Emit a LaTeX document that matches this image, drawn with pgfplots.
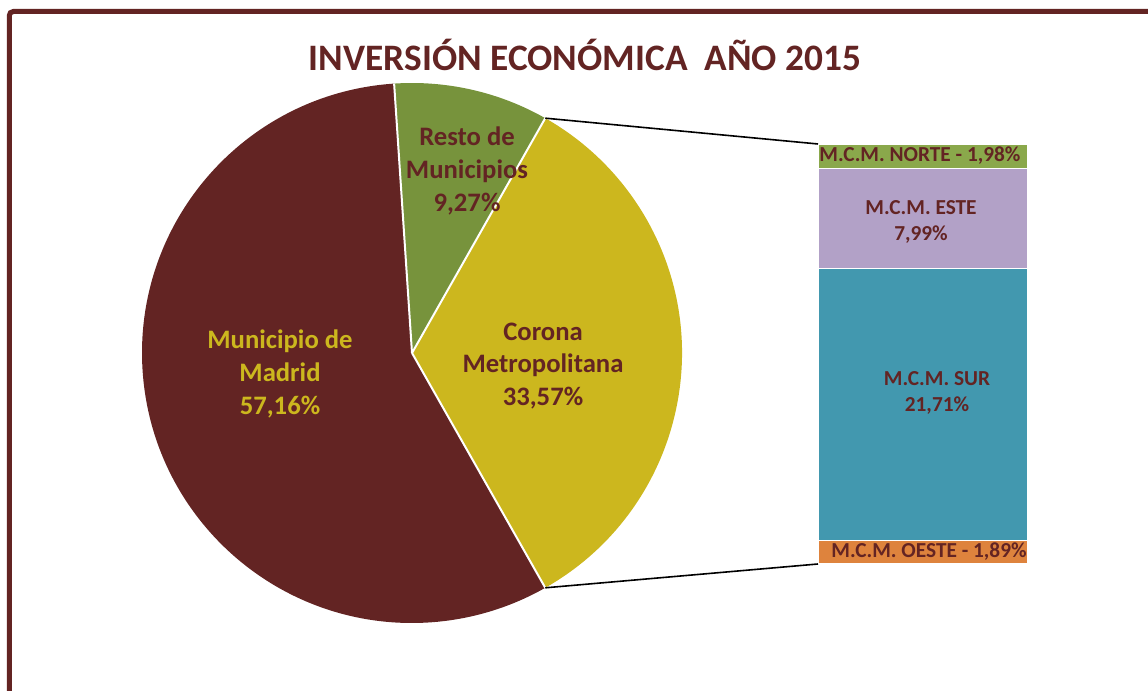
\documentclass[border=0pt]{standalone}
\usepackage{pgfplots}
\pgfplotsset{compat=1.18}
\usepackage{pgfplotstable}
\usepackage{fontspec}
\setmainfont{Carlito}
\definecolor{madrid}{HTML}{632423}
\definecolor{resto}{HTML}{77933C}
\definecolor{corona}{HTML}{CCB71E}
\definecolor{norte}{HTML}{8AA84B}
\definecolor{este}{HTML}{B2A1C7}
\definecolor{sur}{HTML}{4298AF}
\definecolor{oeste}{HTML}{DE833D}

\pgfplotstableread{
name value
Madrid 57.16
Resto 9.27
Corona 33.57
}\piedata

\pgfplotstableread{
x oeste sur este norte
1 1.89 21.71 7.99 1.98
}\bardata

\pgfplotstablegetelem{0}{value}\of\piedata \let\vMadrid\pgfplotsretval
\pgfplotstablegetelem{1}{value}\of\piedata \let\vResto\pgfplotsretval
\pgfplotstablegetelem{2}{value}\of\piedata \let\vCorona\pgfplotsretval
\pgfmathsetmacro{\aCs}{-1.8*\vCorona}
\pgfmathsetmacro{\aCe}{1.8*\vCorona}
\pgfmathsetmacro{\aRe}{\aCe+3.6*\vResto}
\pgfmathsetmacro{\aMe}{\aRe+3.6*\vMadrid}
\def\R{202.5pt}

\begin{document}
\begin{tikzpicture}[x=0.75pt,y=0.75pt]
\useasboundingbox (0,0) rectangle (1148,691);
\draw[madrid, line width=3.75pt, rounded corners=3pt] (9.3,-30) |- (1200,679.5);

\begin{axis}[at={(613.5pt,95.25pt)}, anchor=south west, scale only axis,
  width=157.5pt, height=315pt, xmin=0.5, xmax=1.5, ymin=0, ymax=33.57,
  enlargelimits=false, hide axis, clip=false,
  ybar stacked, bar width=157.5pt]
  \addplot[fill=oeste, draw=white, line width=1pt] table[x=x, y=oeste] {\bardata};
  \addplot[fill=sur, draw=white, line width=1pt] table[x=x, y=sur] {\bardata};
  \addplot[fill=este, draw=white, line width=1pt] table[x=x, y=este] {\bardata};
  \addplot[fill=norte, draw=white, line width=1pt] table[x=x, y=norte] {\bardata};
\end{axis}

\begin{axis}[at={(0pt,0pt)}, anchor=south west, x=0.75pt, y=0.75pt,
  xmin=0, xmax=1148, ymin=0, ymax=691, enlargelimits=false,
  hide axis, clip=false]
  % pie slices
  \fill[corona] (axis cs:412,338) -- ++(\aCs:\R) arc[start angle=\aCs, end angle=\aCe, radius=\R] -- cycle;
  \fill[resto] (axis cs:412,338) -- ++(\aCe:\R) arc[start angle=\aCe, end angle=\aRe, radius=\R] -- cycle;
  \fill[madrid] (axis cs:412,338) -- ++(\aRe:\R) arc[start angle=\aRe, end angle=\aMe, radius=\R] -- cycle;
  \draw[white, line width=1.5pt] (axis cs:412,338) -- ++(\aCs:\R);
  \draw[white, line width=1.5pt] (axis cs:412,338) -- ++(\aCe:\R);
  \draw[white, line width=1.5pt] (axis cs:412,338) -- ++(\aRe:\R);
  % connectors
  \draw[black, line width=1.2pt] (axis cs:412,338) ++(\aCe:\R) -- (axis cs:818,547);
  \draw[black, line width=1.2pt] (axis cs:412,338) ++(\aCs:\R) -- (axis cs:818,127);
  % labels
  \node[madrid, font=\fontsize{20}{24.5}\selectfont\bfseries, align=center] at (axis cs:467,520) {Resto de\\Municipios\\9,27\%};
  \node[madrid, font=\fontsize{20}{24.5}\selectfont\bfseries, align=center] at (axis cs:543,325) {Corona\\Metropolitana\\33,57\%};
  \node[corona, font=\fontsize{20}{24.5}\selectfont\bfseries, align=center] at (axis cs:280,317) {Municipio de\\Madrid\\57,16\%};
  \node[madrid, font=\fontsize{28}{32}\selectfont\bfseries] at (axis cs:585,636) {INVERSIÓN ECONÓMICA\ \ AÑO 2015};
  % bar labels
  \node[madrid, font=\fontsize{16}{19.5}\selectfont\bfseries] at (axis cs:920,535) {M.C.M. NORTE - 1,98\%};
  \node[madrid, font=\fontsize{16}{19.5}\selectfont\bfseries, align=center] at (axis cs:921,469) {M.C.M. ESTE\\7,99\%};
  \node[madrid, font=\fontsize{16}{19.5}\selectfont\bfseries, align=center] at (axis cs:937,298) {M.C.M. SUR\\21,71\%};
  \node[madrid, font=\fontsize{16}{19.5}\selectfont\bfseries] at (axis cs:929,139) {M.C.M. OESTE - 1,89\%};
\end{axis}
\end{tikzpicture}
\end{document}
